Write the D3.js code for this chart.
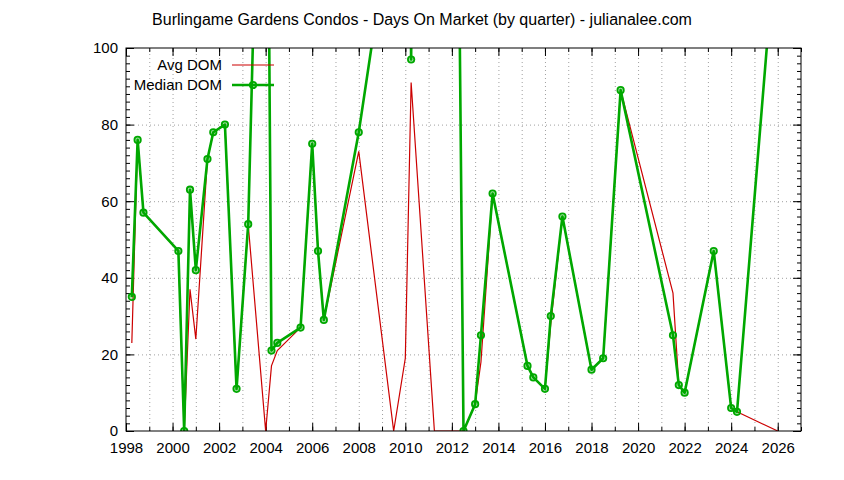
<!DOCTYPE html>
<html lang="en">
<head>
<meta charset="UTF-8">
<title>Burlingame Gardens Condos - Days On Market</title>
<script src="https://d3js.org/d3.v7.min.js"></script>
<style>
  body, html { margin: 0; padding: 0; background: #fff; }
  svg text { font-family: "Liberation Sans", Arial, sans-serif; fill: #000; }
  .grid line { stroke: #a0a0a0; stroke-width: 1; stroke-dasharray: 1,3; }
  .grid path { display: none; }
  .axis path { display: none; }
  .axis line { stroke: #000; }
</style>
</head>
<body>
<div id="chart"></div>
<script>
// quarter (decimal year) and days on market
var quarters = [1998.25, 1998.5, 1998.75, 2000.25, 2000.5, 2000.75, 2001.0, 2001.5, 2001.75,
  2002.25, 2002.75, 2003.25, 2004.0, 2004.25, 2004.5, 2005.5, 2006.0, 2006.25, 2006.5,
  2008.0, 2009.5, 2010.0, 2010.25, 2011.25, 2012.5, 2013.0, 2013.25, 2013.75, 2015.25,
  2015.5, 2016.0, 2016.25, 2016.75, 2018.0, 2018.5, 2019.25, 2021.5, 2021.75, 2022.0,
  2023.25, 2024.0, 2024.25, 2026.0];
var avgDom = [23, 76, 57, 47, 0, 37, 24, 71, 78,
  80, 11, 54, 0, 17, 21, 27, 75, 47, 29,
  73, 0, 19, 91, 0, 0, 7, 18, 62, 17,
  14, 11, 28, 56, 16, 19, 89, 36, 12, 10,
  47, 6, 5, 0];
var medianDom = [35, 76, 57, 47, 0, 63, 42, 71, 78,
  80, 11, 54, 230, 21, 23, 27, 75, 47, 29,
  78, 139, 250, 97, 800, 0, 7, 25, 62, 17,
  14, 11, 30, 56, 16, 19, 89, 25, 12, 10,
  47, 6, 5, 135];
var xTicks = d3.range(1998, 2027, 2);
var xMinor = d3.range(1998, 2028, 1);
var yTicks = [0, 20, 40, 60, 80, 100];
var yMinor = d3.range(0, 101, 2);

var W = 844, H = 480;
var margin = {top: 48, right: 43, bottom: 49, left: 126},
    width = W - margin.left - margin.right,
    height = H - margin.top - margin.bottom;

var svg = d3.select("#chart").append("svg")
    .attr("width", W)
    .attr("height", H);

svg.append("text")
    .attr("x", 422)
    .attr("y", 25)
    .attr("text-anchor", "middle")
    .style("font-size", "16px")
    .text("Burlingame Gardens Condos - Days On Market (by quarter) - julianalee.com");

var g = svg.append("g")
    .attr("transform", "translate(" + margin.left + "," + margin.top + ")");

var x = d3.scaleLinear().domain([1998, 2027]).range([0, width]);
var y = d3.scaleLinear().domain([0, 100]).range([height, 0]);

// grid: every year vertically, major y only horizontally
g.append("g").attr("class", "grid")
    .attr("transform", "translate(0," + height + ")")
    .call(d3.axisBottom(x).tickValues(xMinor.slice(1, -1)).tickSize(-height).tickFormat(""));
g.append("g").attr("class", "grid")
    .call(d3.axisLeft(y).tickValues(yTicks.slice(1, -1)).tickSize(-width).tickFormat(""));

// major ticks with labels (inward)
g.append("g").attr("class", "axis")
    .attr("transform", "translate(0," + height + ")")
    .call(d3.axisBottom(x).tickValues(xTicks).tickSize(-8).tickPadding(11).tickFormat(d3.format("d")))
    .call(a => a.selectAll("text").style("font-size", "15px").style("font-family", "Liberation Sans, Arial, sans-serif"));
g.append("g").attr("class", "axis")
    .call(d3.axisLeft(y).tickValues(yTicks).tickSize(-8).tickPadding(8))
    .call(a => a.selectAll("text").style("font-size", "15px").style("font-family", "Liberation Sans, Arial, sans-serif"));
// mirrored major ticks
g.append("g").attr("class", "axis")
    .call(d3.axisTop(x).tickValues(xTicks).tickSize(-8).tickFormat(""));
g.append("g").attr("class", "axis")
    .attr("transform", "translate(" + width + ",0)")
    .call(d3.axisRight(y).tickValues(yTicks).tickSize(-8).tickFormat(""));
// minor ticks
g.append("g").attr("class", "axis")
    .attr("transform", "translate(0," + height + ")")
    .call(d3.axisBottom(x).tickValues(xMinor).tickSize(-4).tickFormat(""));
g.append("g").attr("class", "axis")
    .call(d3.axisTop(x).tickValues(xMinor).tickSize(-4).tickFormat(""));
g.append("g").attr("class", "axis")
    .call(d3.axisLeft(y).tickValues(yMinor).tickSize(-4).tickFormat(""));
g.append("g").attr("class", "axis")
    .attr("transform", "translate(" + width + ",0)")
    .call(d3.axisRight(y).tickValues(yMinor).tickSize(-4).tickFormat(""));

g.append("clipPath").attr("id", "clip")
  .append("rect").attr("width", width).attr("height", height);

var data = quarters.map(function(q, i) {
    return {q: q, avg: avgDom[i], med: medianDom[i]};
});

var plot = g.append("g").attr("clip-path", "url(#clip)");

var redColor = "#cc0000", greenColor = "#00a800";

plot.append("path")
    .datum(data)
    .attr("fill", "none")
    .attr("stroke", redColor)
    .attr("stroke-width", 1.2)
    .attr("d", d3.line().x(d => x(d.q)).y(d => y(d.avg)));

plot.append("path")
    .datum(data)
    .attr("fill", "none")
    .attr("stroke", greenColor)
    .attr("stroke-width", 2.6)
    .attr("stroke-linejoin", "round")
    .attr("d", d3.line().x(d => x(d.q)).y(d => y(d.med)));

plot.selectAll("circle.med")
    .data(data)
    .enter().append("circle")
    .attr("class", "med")
    .attr("cx", d => x(d.q))
    .attr("cy", d => y(d.med))
    .attr("r", 3.2)
    .attr("fill", "rgba(0,168,0,0.35)")
    .attr("stroke", greenColor)
    .attr("stroke-width", 1.8);

// border
g.append("rect")
    .attr("width", width)
    .attr("height", height)
    .attr("fill", "none")
    .attr("stroke", "#000")
    .attr("stroke-width", 1);

// legend
var legend = svg.append("g");
legend.append("text").attr("x", 222).attr("y", 70).attr("text-anchor", "end")
    .style("font-size", "15px").text("Avg DOM");
legend.append("line").attr("x1", 232).attr("x2", 274).attr("y1", 65).attr("y2", 65)
    .attr("stroke", redColor).attr("stroke-width", 1.2);
legend.append("text").attr("x", 222).attr("y", 90).attr("text-anchor", "end")
    .style("font-size", "15px").text("Median DOM");
legend.append("line").attr("x1", 232).attr("x2", 274).attr("y1", 85).attr("y2", 85)
    .attr("stroke", greenColor).attr("stroke-width", 2.6);
legend.append("circle").attr("cx", 253).attr("cy", 85).attr("r", 3.2)
    .attr("fill", "rgba(0,168,0,0.35)").attr("stroke", greenColor).attr("stroke-width", 1.8);
</script>
</body>
</html>
